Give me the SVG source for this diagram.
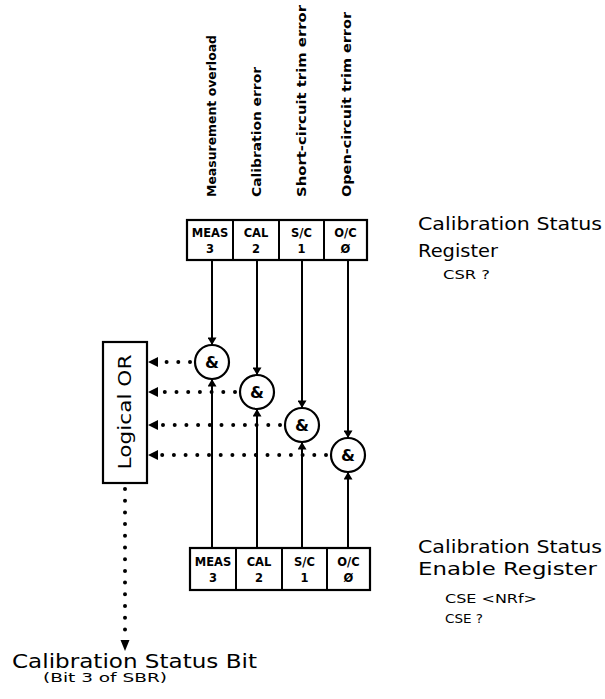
<svg xmlns="http://www.w3.org/2000/svg" width="605" height="699" viewBox="0 0 605 699">
<style>
.ln{stroke:#000;stroke-width:2;fill:none}
.bx{stroke:#000;stroke-width:2.2;fill:#fff}
.dt{stroke:#000;stroke-width:4;stroke-linecap:round;stroke-dasharray:0 11.7;fill:none}
.t{font-family:"DejaVu Sans",sans-serif;fill:#000}
.vl{font-size:12px;font-weight:bold}
.rc{font-size:11.5px;font-weight:bold;text-anchor:middle}
.lb{font-size:17px}
.sm{font-size:12px}
.amp{font-size:16px;font-weight:bold;text-anchor:middle}
.hd{fill:#000}
</style>
<defs>
<marker id="ah" viewBox="0 0 10 12" refX="10" refY="6" markerWidth="10" markerHeight="9" orient="auto" markerUnits="userSpaceOnUse"><path d="M0,0 L10,6 L0,12 z"/></marker>
</defs>
<rect width="605" height="699" fill="#fff"/>

<g id="labels-top">
<text class="t vl" transform="translate(216,197) rotate(-90)" textLength="162" lengthAdjust="spacingAndGlyphs">Measurement overload</text>
<text class="t vl" transform="translate(261,197) rotate(-90)" textLength="130" lengthAdjust="spacingAndGlyphs">Calibration error</text>
<text class="t vl" transform="translate(306,197) rotate(-90)" textLength="192" lengthAdjust="spacingAndGlyphs">Short-circuit trim error</text>
<text class="t vl" transform="translate(351,197) rotate(-90)" textLength="185" lengthAdjust="spacingAndGlyphs">Open-circuit trim error</text>
</g>

<g id="csr">
<rect class="bx" x="187" y="220" width="180" height="40"/>
<path class="ln" d="M233,220V260M279,220V260M324,220V260"/>
<text class="t rc" x="210" y="237">MEAS</text><text class="t rc" x="210" y="253">3</text>
<text class="t rc" x="256" y="237">CAL</text><text class="t rc" x="256" y="253">2</text>
<text class="t rc" x="301.5" y="237">S/C</text><text class="t rc" x="301.5" y="253">1</text>
<text class="t rc" x="345.5" y="237">O/C</text><text class="t rc" x="345.5" y="253">Ø</text>
</g>
<g id="csr-label">
<text class="t lb" x="418" y="230" textLength="184" lengthAdjust="spacingAndGlyphs">Calibration Status</text>
<text class="t lb" x="418" y="257" textLength="80" lengthAdjust="spacingAndGlyphs">Register</text>
<text class="t sm" x="443" y="279" textLength="47" lengthAdjust="spacingAndGlyphs">CSR ?</text>
</g>

<g id="cse">
<rect class="bx" x="190" y="548" width="180" height="42"/>
<path class="ln" d="M236,548V590M282,548V590M327,548V590"/>
<text class="t rc" x="213" y="566">MEAS</text><text class="t rc" x="213" y="582">3</text>
<text class="t rc" x="259" y="566">CAL</text><text class="t rc" x="259" y="582">2</text>
<text class="t rc" x="304.5" y="566">S/C</text><text class="t rc" x="304.5" y="582">1</text>
<text class="t rc" x="348.5" y="566">O/C</text><text class="t rc" x="348.5" y="582">Ø</text>
</g>
<g id="cse-label">
<text class="t lb" x="418" y="553" textLength="184" lengthAdjust="spacingAndGlyphs">Calibration Status</text>
<text class="t lb" x="418" y="575" textLength="179" lengthAdjust="spacingAndGlyphs">Enable Register</text>
<text class="t sm" x="445" y="603" textLength="92" lengthAdjust="spacingAndGlyphs">CSE &lt;NRf&gt;</text>
<text class="t sm" x="445" y="623" textLength="38" lengthAdjust="spacingAndGlyphs">CSE ?</text>
</g>

<g id="or">
<rect class="bx" x="103" y="342" width="44" height="141"/>
<text class="t" font-size="18" text-anchor="middle" transform="translate(131,412) rotate(-90)" textLength="115" lengthAdjust="spacingAndGlyphs">Logical OR</text>
</g>

<g id="and1"><circle class="bx" cx="212" cy="362" r="17"/><text class="t amp" x="212" y="368">&amp;</text></g>
<g id="and2"><circle class="bx" cx="257" cy="392" r="17"/><text class="t amp" x="257" y="398">&amp;</text></g>
<g id="and3"><circle class="bx" cx="302" cy="425" r="17"/><text class="t amp" x="302" y="431">&amp;</text></g>
<g id="and4"><circle class="bx" cx="348" cy="455" r="17"/><text class="t amp" x="348" y="461">&amp;</text></g>

<g id="connectors">
<line class="ln" x1="212" y1="260" x2="212" y2="345" marker-end="url(#ah)"/>
<line class="ln" x1="212" y1="548" x2="212" y2="379" marker-end="url(#ah)"/>
<line class="ln" x1="257" y1="260" x2="257" y2="375" marker-end="url(#ah)"/>
<line class="ln" x1="257" y1="548" x2="257" y2="409" marker-end="url(#ah)"/>
<line class="ln" x1="302" y1="260" x2="302" y2="408" marker-end="url(#ah)"/>
<line class="ln" x1="302" y1="548" x2="302" y2="442" marker-end="url(#ah)"/>
<line class="ln" x1="348" y1="260" x2="348" y2="438" marker-end="url(#ah)"/>
<line class="ln" x1="348" y1="548" x2="348" y2="472" marker-end="url(#ah)"/>

<line class="dt" x1="190" y1="362" x2="160" y2="362"/>
<line class="dt" x1="235" y1="392" x2="160" y2="392"/>
<line class="dt" x1="280" y1="425" x2="160" y2="425"/>
<line class="dt" x1="326" y1="455" x2="160" y2="455"/>
<path class="hd" d="M148,362L158,357L158,367zM148,392L158,387L158,397zM148,425L158,420L158,430zM148,455L158,450L158,460z"/>

<line class="dt" x1="125" y1="489" x2="125" y2="630"/>
<path class="hd" d="M125,651L120.5,640L129.5,640z"/>
</g>

<g id="bit-label">
<text class="t" font-size="19" x="12" y="668" textLength="245" lengthAdjust="spacingAndGlyphs">Calibration Status Bit</text>
<text class="t sm" x="43" y="682" textLength="124" lengthAdjust="spacingAndGlyphs">(Bit 3 of SBR)</text>
</g>
</svg>
